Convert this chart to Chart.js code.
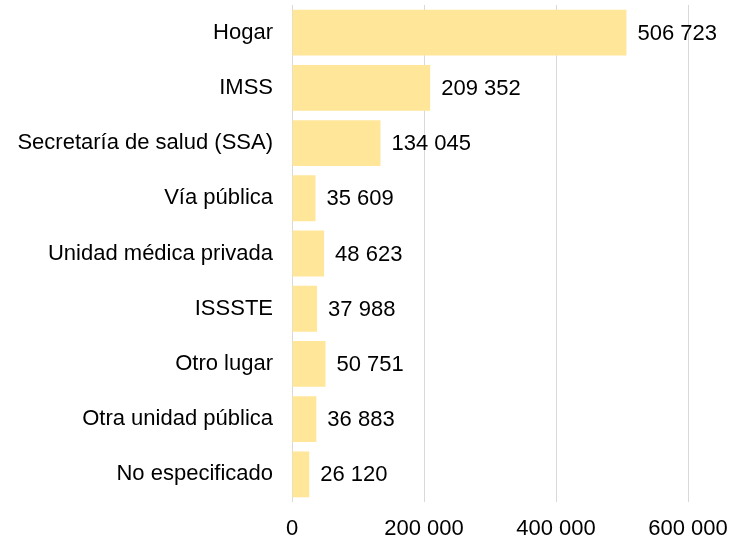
<!DOCTYPE html>
<html>
<head>
<meta charset="utf-8">
<script src="https://cdn.jsdelivr.net/npm/chart.js@4.4.1/dist/chart.umd.min.js"></script>
<style>
  html, body { margin: 0; padding: 0; background: #ffffff; }
  #wrap { width: 729px; height: 541px; position: relative; }
</style>
</head>
<body>
<div id="wrap"><canvas id="c"></canvas></div>
<script>
const categories = [
  "Hogar",
  "IMSS",
  "Secretaría de salud (SSA)",
  "Vía pública",
  "Unidad médica privada",
  "ISSSTE",
  "Otro lugar",
  "Otra unidad pública",
  "No especificado"
];
const values = [506723, 209352, 134045, 35609, 48623, 37988, 50751, 36883, 26120];
const xTicks = [0, 200000, 400000, 600000];

function fmt(v) {
  return String(v).replace(/\B(?=(\d{3})+(?!\d))/g, ' ');
}

const FONT = '"Liberation Sans", Arial, sans-serif';

const valueLabels = {
  id: 'valueLabels',
  afterDatasetsDraw(chart) {
    const ctx = chart.ctx;
    const meta = chart.getDatasetMeta(0);
    ctx.save();
    ctx.font = '22px ' + FONT;
    ctx.fillStyle = '#000000';
    ctx.textAlign = 'left';
    ctx.textBaseline = 'middle';
    meta.data.forEach((bar, i) => {
      ctx.fillText(fmt(chart.data.datasets[0].data[i]), bar.x + 11, bar.y + 1);
    });
    ctx.restore();
  }
};

new Chart(document.getElementById('c'), {
  type: 'bar',
  data: {
    labels: categories,
    datasets: [{
      data: values,
      backgroundColor: '#FFE699',
      borderWidth: 0,
      barPercentage: 0.83,
      categoryPercentage: 1.0
    }]
  },
  options: {
    indexAxis: 'y',
    responsive: true,
    maintainAspectRatio: false,
    animation: false,
    layout: { padding: { top: 5, right: 41, left: 0, bottom: 0 } },
    plugins: {
      legend: { display: false },
      tooltip: { enabled: false }
    },
    scales: {
      x: {
        min: 0,
        max: 600000,
        afterBuildTicks(scale) {
          scale.ticks = xTicks.map(v => ({ value: v }));
        },
        afterFit(scale) {
          scale.height = 39;
          scale.paddingLeft = 0;
          scale.paddingRight = 0;
        },
        grid: { color: '#D9D9D9', lineWidth: 1, drawTicks: false, tickLength: 0 },
        border: { display: false },
        ticks: {
          padding: 14,
          color: '#000000',
          font: { family: FONT, size: 22 },
          callback: (v) => fmt(v),
          maxRotation: 0
        }
      },
      y: {
        afterFit(scale) {
          scale.width = 292;
          scale.paddingTop = 0;
          scale.paddingBottom = 0;
        },
        grid: { display: false, drawTicks: false, tickLength: 0 },
        border: { display: false },
        ticks: {
          padding: 19,
          color: '#000000',
          font: { family: FONT, size: 22 }
        }
      }
    }
  },
  plugins: [valueLabels]
});
</script>
</body>
</html>
